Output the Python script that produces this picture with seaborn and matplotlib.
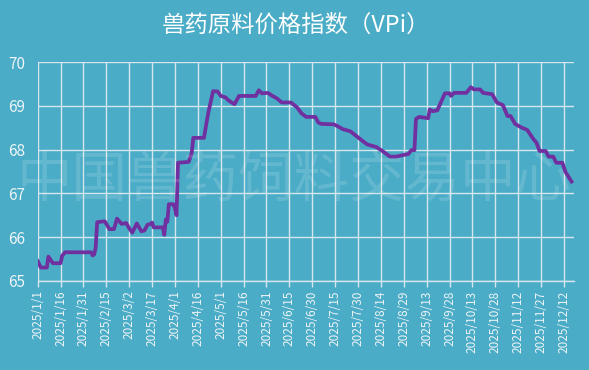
import matplotlib
matplotlib.use("Agg")
import matplotlib.pyplot as plt
import seaborn as sns
import pandas as pd

# ---- data ----
dates = [
    "2025-01-01", "2025-01-03", "2025-01-07", "2025-01-08", "2025-01-09", "2025-01-11",
    "2025-01-16", "2025-01-17", "2025-01-19", "2025-02-05", "2025-02-06", "2025-02-07",
    "2025-02-08", "2025-02-09", "2025-02-14", "2025-02-15", "2025-02-17", "2025-02-20",
    "2025-02-22", "2025-02-25", "2025-02-28", "2025-03-02", "2025-03-04", "2025-03-07",
    "2025-03-10", "2025-03-12", "2025-03-14", "2025-03-16", "2025-03-17", "2025-03-18",
    "2025-03-24", "2025-03-25", "2025-03-26", "2025-03-27", "2025-03-28", "2025-03-31",
    "2025-04-01", "2025-04-02", "2025-04-03", "2025-04-10", "2025-04-12", "2025-04-13",
    "2025-04-20", "2025-04-22", "2025-04-23", "2025-04-26", "2025-04-29", "2025-05-01",
    "2025-05-04", "2025-05-06", "2025-05-10", "2025-05-13", "2025-05-24", "2025-05-26",
    "2025-05-28", "2025-06-01", "2025-06-03", "2025-06-07", "2025-06-10", "2025-06-16",
    "2025-06-20", "2025-06-23", "2025-06-26", "2025-07-02", "2025-07-04", "2025-07-06",
    "2025-07-14", "2025-07-16", "2025-07-20", "2025-07-25", "2025-07-29", "2025-08-02",
    "2025-08-05", "2025-08-11", "2025-08-15", "2025-08-20", "2025-08-24", "2025-08-29",
    "2025-09-01", "2025-09-03", "2025-09-05", "2025-09-06", "2025-09-08", "2025-09-14",
    "2025-09-15", "2025-09-17", "2025-09-20", "2025-09-25", "2025-09-28", "2025-09-29",
    "2025-10-01", "2025-10-09", "2025-10-12", "2025-10-14", "2025-10-18", "2025-10-20",
    "2025-10-26", "2025-10-29", "2025-11-02", "2025-11-05", "2025-11-07", "2025-11-10",
    "2025-11-14", "2025-11-18", "2025-11-22", "2025-11-24", "2025-11-26", "2025-11-30",
    "2025-12-02", "2025-12-05", "2025-12-07", "2025-12-11", "2025-12-13", "2025-12-17",
]
values = [
    65.45, 65.30, 65.30, 65.55, 65.50, 65.40,
    65.40, 65.57, 65.65, 65.65, 65.58, 65.60,
    65.75, 66.34, 66.36, 66.30, 66.18, 66.18,
    66.42, 66.30, 66.32, 66.20, 66.10, 66.31,
    66.13, 66.15, 66.28, 66.30, 66.33, 66.22,
    66.22, 66.05, 66.40, 66.35, 66.75, 66.75,
    66.66, 66.50, 67.70, 67.72, 67.93, 68.27,
    68.27, 68.68, 68.87, 69.34, 69.33, 69.23,
    69.20, 69.13, 69.04, 69.23, 69.23, 69.36,
    69.29, 69.30, 69.25, 69.17, 69.08, 69.08,
    68.97, 68.83, 68.75, 68.75, 68.62, 68.59,
    68.58, 68.55, 68.47, 68.42, 68.31, 68.20,
    68.12, 68.06, 67.97, 67.84, 67.84, 67.88,
    67.90, 67.99, 67.99, 68.70, 68.75, 68.72,
    68.92, 68.88, 68.90, 69.29, 69.29, 69.23,
    69.30, 69.30, 69.43, 69.38, 69.38, 69.30,
    69.27, 69.08, 69.02, 68.77, 68.77, 68.59,
    68.51, 68.45, 68.24, 68.16, 67.97, 67.97,
    67.84, 67.84, 67.70, 67.70, 67.49, 67.27,
]
tick_labels = [
    "2025/1/1", "2025/1/16", "2025/1/31", "2025/2/15", "2025/3/2", "2025/3/17",
    "2025/4/1", "2025/4/16", "2025/5/1", "2025/5/16", "2025/5/31", "2025/6/15",
    "2025/6/30", "2025/7/15", "2025/7/30", "2025/8/14", "2025/8/29", "2025/9/13",
    "2025/9/28", "2025/10/13", "2025/10/28", "2025/11/12", "2025/11/27", "2025/12/12",
]
y_ticks = [65, 66, 67, 68, 69, 70]
title = "兽药原料价格指数（VPi）"
watermark = "中国兽药饲料交易中心"

bg = "#4aacc6"
fg = "#eef4f7"
grid_c = "#d6e6ec"

plt.rcParams['font.family'] = ['Noto Sans CJK SC', 'DejaVu Sans']

df = pd.DataFrame({"date": pd.to_datetime(dates), "value": values})
tick_pos = pd.to_datetime(tick_labels, format="%Y/%m/%d")

fig = plt.figure(figsize=(5.89, 3.70), dpi=100, facecolor=bg)
ax = fig.add_axes([0.064, 0.2414, 0.9105, 0.5902])
ax.set_facecolor(bg)

sns.lineplot(data=df, x="date", y="value", ax=ax, color="#7030a0",
             linewidth=2.7, zorder=5)

ax.set_ylim(65, 70)
ax.set_yticks(y_ticks)
ax.set_xlim(pd.Timestamp("2025-01-01"), pd.Timestamp("2025-01-01") + pd.Timedelta(days=351.6))
ax.set_xticks(tick_pos)
ax.set_xticklabels(tick_labels, rotation=90, va="top", ha="center")
ax.set_xlabel("")
ax.set_ylabel("")

ax.grid(True, color=grid_c, linewidth=1.0, zorder=0)
ax.set_axisbelow(True)
for s in ["top", "right", "left"]:
    ax.spines[s].set_visible(False)
ax.spines["bottom"].set_color(grid_c)
ax.spines["bottom"].set_linewidth(1.0)

ax.tick_params(axis="y", length=0, pad=9, labelsize=11, labelcolor=fg)
ax.tick_params(axis="x", length=4, width=1, color=grid_c, pad=3,
               labelsize=8.5, labelcolor=fg)

fig.text(0.503, 0.932, title, ha="center", va="center", fontsize=16.8, color="white")
fig.text(0.5, 0.512, watermark, ha="center", va="center", fontsize=40,
         color="white", alpha=0.14, zorder=3)

fig.savefig("out.png", dpi=100, facecolor=bg)
